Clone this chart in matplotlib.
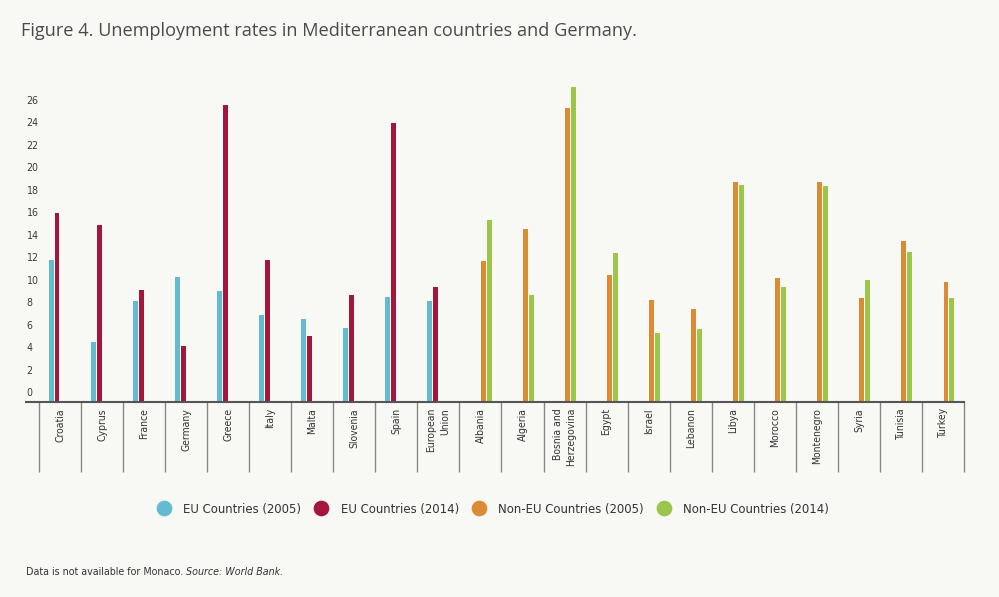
import matplotlib
matplotlib.use("Agg")
import matplotlib.pyplot as plt
import matplotlib.transforms as mtransforms
from matplotlib.lines import Line2D
import numpy as np

categories = ["Croatia", "Cyprus", "France", "Germany", "Greece", "Italy", "Malta",
              "Slovenia", "Spain", "European\nUnion", "Albania", "Algeria",
              "Bosnia and\nHerzegovina", "Egypt", "Israel", "Lebanon", "Libya",
              "Morocco", "Montenegro", "Syria", "Tunisia", "Turkey"]
nan = float("nan")
eu_2005 = [12.6, 5.3, 8.95, 11.1, 9.9, 7.7, 7.35, 6.55, 9.3, 8.95] + [nan] * 12
eu_2014 = [16.8, 15.7, 9.95, 5.0, 26.4, 12.6, 5.9, 9.5, 24.8, 10.25] + [nan] * 12
noneu_2005 = [nan] * 10 + [12.5, 15.35, 26.1, 11.25, 9.05, 8.25, 19.6, 11.05, 19.6, 9.25, 14.3, 10.65]
noneu_2014 = [nan] * 10 + [16.2, 9.5, 28.0, 13.25, 6.15, 6.45, 19.25, 10.25, 19.2, 10.85, 13.35, 9.25]
series_labels = ["EU Countries (2005)", "EU Countries (2014)",
                 "Non-EU Countries (2005)", "Non-EU Countries (2014)"]
colors = ["#62bccf", "#a3173d", "#dc8b35", "#9cc64b"]
yticks = list(range(0, 27, 2))

BG = "#f8f8f5"
COND = dict(family="DejaVu Sans", stretch="condensed")

W, H = 999, 597
fig = plt.figure(figsize=(W / 100, H / 100), dpi=100, facecolor=BG)

ax_left, ax_right = 26, 964
ax_top, ax_bottom = 80, 402
ax = fig.add_axes([ax_left / W, 1 - ax_bottom / H, (ax_right - ax_left) / W, (ax_bottom - ax_top) / H])
ax.set_facecolor(BG)

n = len(categories)
cell_px = (964 - 39) / n
x = np.arange(n)
ax.set_xlim(-0.5 - (39 - ax_left) / cell_px, n - 0.5)
px_per_unit = 11.25
ax.set_ylim(0, (ax_bottom - ax_top) / px_per_unit)

slot = 0.138
bw = 0.112
all_series = [eu_2005, eu_2014, noneu_2005, noneu_2014]
for k, (vals, c) in enumerate(zip(all_series, colors)):
    ax.bar(x + (k - 1.5) * slot, vals, width=bw, color=c, linewidth=0)

for s in ["top", "right", "left"]:
    ax.spines[s].set_visible(False)
ax.spines["bottom"].set_color("#555555")
ax.spines["bottom"].set_linewidth(1.5)
ax.set_xticks([])
ax.set_yticks([])

ylab_tr = mtransforms.offset_copy(ax.get_yaxis_transform(), fig=fig, x=0.7, y=8.7, units="dots")
for v in yticks:
    ax.text(0, v, str(v), transform=ylab_tr, ha="left", va="center",
            fontsize=7.6, color="#3a3a3a", **COND)

sep_depth = (471.7 - ax_bottom) / (ax_bottom - ax_top)
btr = ax.get_xaxis_transform()
for k in range(n + 1):
    ax.plot([k - 0.5, k - 0.5], [0, -sep_depth], transform=btr, color="#888888",
            lw=1.0, clip_on=False, solid_capstyle="butt")

lab_y = -(408 - ax_bottom) / (ax_bottom - ax_top)
for i, name in enumerate(categories):
    ax.text(i, lab_y, name, transform=btr, rotation=90, ha="center", va="top",
            multialignment="right", fontsize=7.5, color="#333333",
            linespacing=1.5, **COND)

fig.text(21 / W, 1 - 31 / H, "Figure 4. Unemployment rates in Mediterranean countries and Germany.",
         ha="left", va="center", fontsize=13.1, color="#4a4a4a", family=["Open Sans", "DejaVu Sans"])

handles = [Line2D([], [], marker="o", linestyle="none", markersize=11.3, markerfacecolor=c,
                  markeredgewidth=0) for c in colors]
fig.legend(handles, series_labels, loc="center", bbox_to_anchor=(490 / W, 1 - 509 / H),
           ncol=4, frameon=False, handlelength=2.0, handletextpad=0.47, columnspacing=0.55,
           prop=dict(size=9.4, **COND), labelcolor="#333333")

t1 = fig.text(26 / W, 1 - 572 / H, "Data is not available for Monaco. ", ha="left", va="center",
              fontsize=7.7, color="#333333", **COND)
fig.canvas.draw()
bb = t1.get_window_extent()
fig.text(bb.x1 / W, 1 - 572 / H, "Source: World Bank.", ha="left", va="center",
         fontsize=7.7, color="#333333", style="italic", **COND)

fig.savefig("out.png", dpi=100, facecolor=BG)
